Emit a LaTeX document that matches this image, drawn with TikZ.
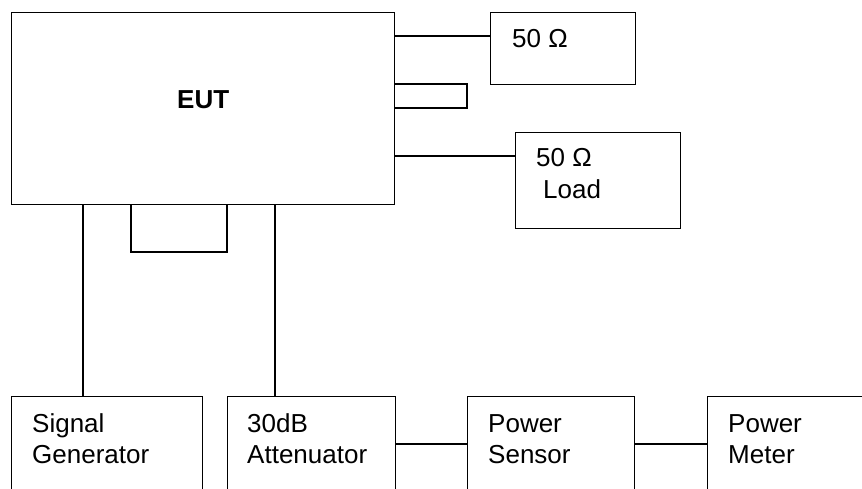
\documentclass[tikz,border=0pt]{standalone}
\usepackage{fontspec}
\setmainfont{Liberation Sans}
\begin{document}
\begin{tikzpicture}[x=1pt,y=-1pt,
  box/.style={draw,line width=1.4pt,inner sep=0pt,anchor=north west},
  wire/.style={line width=1.4pt},
  lbl/.style={anchor=base west,inner sep=0pt,font=\fontsize{26}{31}\selectfont}]
\useasboundingbox (0,0) rectangle (862,489);
\clip (0,0) rectangle (862,489);
% boxes
\node[box,minimum width=383pt,minimum height=192pt] (eut) at (11,12) {};
\node[box,minimum width=145pt,minimum height=72pt] (r1) at (490,12) {};
\node[box,minimum width=165pt,minimum height=96pt] (load) at (515,132) {};
\node[box,minimum width=191pt,minimum height=130pt] (sg) at (11,396) {};
\node[box,minimum width=168pt,minimum height=130pt] (att) at (227,396) {};
\node[box,minimum width=167pt,minimum height=130pt] (ps) at (467,396) {};
\node[box,minimum width=200pt,minimum height=130pt] (pm) at (707,396) {};
% labels
\node[lbl,font=\fontsize{26}{31}\selectfont\bfseries] (teut) at (177,109) {EUT};
\node[lbl] (tr1) at (512,48) {50 Ω};
\node[lbl] (tl1) at (536,167) {50 Ω};
\node[lbl] (tl2) at (543,199) {Load};
\node[lbl] (ts1) at (32,432) {Signal};
\node[lbl] (ts2) at (32,463) {Generator};
\node[lbl] (ta1) at (247,432) {30dB};
\node[lbl] (ta2) at (247,463) {Attenuator};
\node[lbl] (tp1) at (488,432) {Power};
\node[lbl] (tp2) at (488,463) {Sensor};
\node[lbl] (tm1) at (728,432) {Power};
\node[lbl] (tm2) at (728,463) {Meter};
% stubs
\coordinate (stubR) at (467,108);
\coordinate (stubB) at (227,252);
\draw[wire] (eut.east |- 0,84) -| (stubR) -- (eut.east |- stubR);
\draw[wire] (eut.south -| 131,0) |- (stubB) -- (eut.south -| stubB);
% connectors
\draw[wire] (eut.east |- 0,36) -- (r1.west |- 0,36);
\draw[wire] (eut.east |- 0,156) -- (load.west |- 0,156);
\draw[wire] (eut.south -| 83,0) -- (sg.north -| 83,0);
\draw[wire] (eut.south -| 275,0) -- (att.north -| 275,0);
\draw[wire] (att.east |- 0,444) -- (ps.west |- 0,444);
\draw[wire] (ps.east |- 0,444) -- (pm.west |- 0,444);
\end{tikzpicture}
\end{document}
